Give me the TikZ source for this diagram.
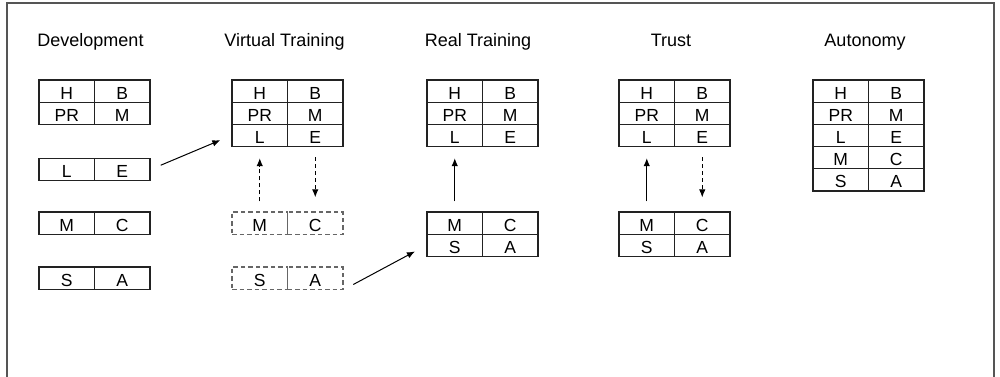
\documentclass[tikz,border=0pt]{standalone}
\usepackage{fontspec}
\setmainfont{Liberation Sans}
\usetikzlibrary{arrows.meta}
\definecolor{framecol}{HTML}{555555}
\definecolor{linecol}{HTML}{222222}
\definecolor{dashcol}{HTML}{666666}
\tikzset{
  cell/.style={draw=linecol, line width=1.2pt, minimum width=55.5pt, minimum height=22.2pt,
    inner sep=0pt, text height=16.1pt, text depth=0pt, font=\fontsize{17.5pt}{18pt}\selectfont},
  dcell/.style={cell, draw=dashcol, dash pattern=on 4.5pt off 3pt},
  title/.style={anchor=base, inner sep=0pt, font=\fontsize{18pt}{19pt}\selectfont},
  arr/.style={draw=black, line width=1pt, -{Latex[length=8pt,width=6.5pt]}},
  darr/.style={arr, dash pattern=on 4pt off 3pt},
}
\begin{document}
\begin{tikzpicture}[x=1pt,y=-1pt]
\useasboundingbox (0,0) rectangle (1000,377);
\draw[framecol, line width=1.5pt] (7,380) -- (7,3) -- (994,3) -- (994,380);

% titles
\node[title] (tdev) at (90.5,47) {Development};
\node[title] (tvt) at (284.5,47) {Virtual Training};
\node[title] (trt) at (478,47) {Real Training};
\node[title] (ttr) at (671,47) {Trust};
\node[title] (tau) at (865,47) {Autonomy};

% Development
\node[cell] (dH) at (66.75,91.1) {H};
\node[cell] (dB) at (122.25,91.1) {B};
\node[cell] (dPR) at (66.75,113.3) {PR};
\node[cell] (dM) at (122.25,113.3) {M};
\node[cell] (dL) at (66.75,169.5) {L};
\node[cell] (dE) at (122.25,169.5) {E};
\node[cell] (dM2) at (66.75,223) {M};
\node[cell] (dC) at (122.25,223) {C};
\node[cell] (dS) at (66.75,278) {S};
\node[cell] (dA) at (122.25,278) {A};

% Virtual Training
\node[cell] (vH) at (259.75,91.1) {H};
\node[cell] (vB) at (315.25,91.1) {B};
\node[cell] (vPR) at (259.75,113.3) {PR};
\node[cell] (vM) at (315.25,113.3) {M};
\node[cell] (vL) at (259.75,135.5) {L};
\node[cell] (vE) at (315.25,135.5) {E};
\node[dcell] (vM2) at (259.75,223) {M};
\node[dcell] (vC) at (315.25,223) {C};
\node[dcell] (vS) at (259.75,278) {S};
\node[dcell] (vA) at (315.25,278) {A};

% Real Training
\node[cell] (rH) at (454.75,91.1) {H};
\node[cell] (rB) at (510.25,91.1) {B};
\node[cell] (rPR) at (454.75,113.3) {PR};
\node[cell] (rM) at (510.25,113.3) {M};
\node[cell] (rL) at (454.75,135.5) {L};
\node[cell] (rE) at (510.25,135.5) {E};
\node[cell] (rM2) at (454.75,223.1) {M};
\node[cell] (rC) at (510.25,223.1) {C};
\node[cell] (rS) at (454.75,245.3) {S};
\node[cell] (rA) at (510.25,245.3) {A};

% Trust
\node[cell] (tH) at (646.75,91.1) {H};
\node[cell] (tB) at (702.25,91.1) {B};
\node[cell] (tPR) at (646.75,113.3) {PR};
\node[cell] (tM) at (702.25,113.3) {M};
\node[cell] (tL) at (646.75,135.5) {L};
\node[cell] (tE) at (702.25,135.5) {E};
\node[cell] (tM2) at (646.75,223.1) {M};
\node[cell] (tC) at (702.25,223.1) {C};
\node[cell] (tS) at (646.75,245.3) {S};
\node[cell] (tA) at (702.25,245.3) {A};

% Autonomy
\node[cell] (aH) at (840.75,91.1) {H};
\node[cell] (aB) at (896.25,91.1) {B};
\node[cell] (aPR) at (840.75,113.3) {PR};
\node[cell] (aM) at (896.25,113.3) {M};
\node[cell] (aL) at (840.75,135.5) {L};
\node[cell] (aE) at (896.25,135.5) {E};
\node[cell] (aM2) at (840.75,157.7) {M};
\node[cell] (aC) at (896.25,157.7) {C};
\node[cell] (aS) at (840.75,179.9) {S};
\node[cell] (aA) at (896.25,179.9) {A};

% connectors
\draw[arr, shorten <=11pt, shorten >=12pt] (dE.east) -- (vL.west);
\draw[darr, shorten <=10pt, shorten >=11pt] (vM2.north) -- (vL.south);
\draw[darr, shorten <=10pt, shorten >=14pt] (vE.south) -- (vC.north);
\draw[arr, shorten <=11pt, shorten >=13pt] (vA.south east) -- (rS.west);
\draw[arr, shorten <=10pt, shorten >=11pt] (rM2.north) -- (rL.south);
\draw[arr, shorten <=10pt, shorten >=11pt] (tM2.north) -- (tL.south);
\draw[darr, shorten <=10pt, shorten >=14pt] (tE.south) -- (tC.north);
\end{tikzpicture}
\end{document}
